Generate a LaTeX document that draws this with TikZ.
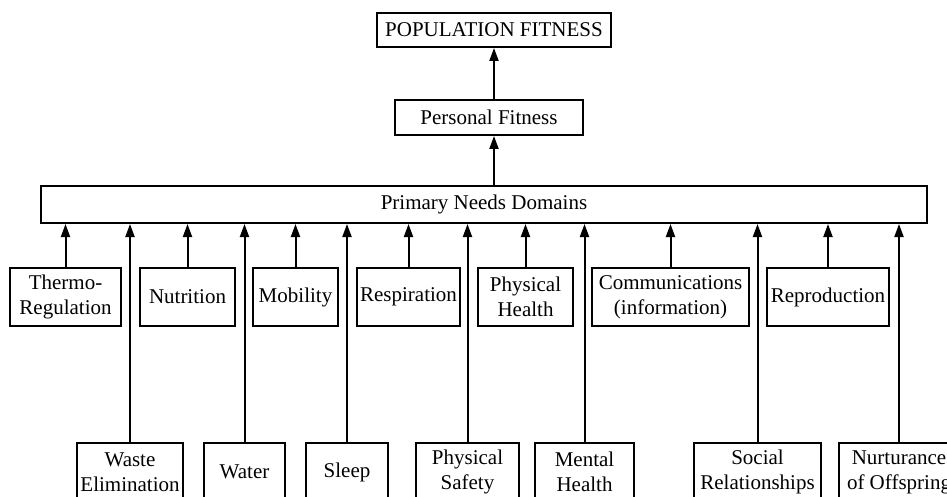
\documentclass[tikz,border=0pt]{standalone}
\usepackage{fontspec}
\setmainfont{Liberation Serif}
\usetikzlibrary{arrows.meta}
\begin{document}
\begin{tikzpicture}[x=1pt,y=-1pt,
 box/.style={draw,line width=2pt,fill=white,inner sep=0pt,align=center,anchor=north west,font=\fontsize{21}{25}\selectfont},
 arr/.style={line width=2pt,-{Triangle[length=13pt,width=9pt]}}]
\clip (0,0) rectangle (947,497);
\fill[white] (0,0) rectangle (947,497);
% top
\node[box,minimum width=234pt,minimum height=34pt] (pop) at (376,12) {POPULATION FITNESS};
\node[box,minimum width=188pt,minimum height=35pt] (pers) at (394,99) {Personal Fitness};
\node[box,minimum width=886pt,minimum height=37pt] (prim) at (40,185) {Primary Needs Domains};
% upper row
\node[box,minimum width=111pt,minimum height=58pt] (thermo) at (9,267) {Thermo-\\Regulation};
\node[box,minimum width=95pt,minimum height=58pt] (nutr) at (139,267) {Nutrition};
\node[box,minimum width=85pt,minimum height=58pt] (mob) at (252,267) {Mobility};
\node[box,minimum width=103pt,minimum height=58pt] (resp) at (356,267) {Respiration};
\node[box,minimum width=95pt,minimum height=58pt] (phys) at (477,267) {Physical\\Health};
\node[box,minimum width=157pt,minimum height=58pt] (comm) at (591,267) {Communications\\(information)};
\node[box,minimum width=122pt,minimum height=58pt] (repr) at (766,267) {Reproduction};
% lower row
\node[box,minimum width=106pt,minimum height=58pt] (waste) at (76,442) {Waste\\Elimination};
\node[box,minimum width=81pt,minimum height=58pt] (water) at (203,442) {Water};
\node[box,minimum width=82pt,minimum height=58pt] (sleep) at (305,442) {Sleep};
\node[box,minimum width=103pt,minimum height=58pt] (safe) at (415,442) {Physical\\Safety};
\node[box,minimum width=99pt,minimum height=58pt] (ment) at (534,442) {Mental\\Health};
\node[box,minimum width=127pt,minimum height=58pt] (soc) at (693,442) {Social\\Relationships};
\node[box,minimum width=120pt,minimum height=58pt] (nurt) at (838,442) {Nurturance\\of Offspring};
% arrows
\draw[arr] (prim.north -| pop.south) -- (pers.south -| pop.south);
\draw[arr] (pers.north -| pop.south) -- (pop.south);
\foreach \n in {thermo,nutr,mob,resp,phys,comm,repr,waste,water,sleep,safe,ment,soc,nurt}
  \draw[arr] (\n.north) -- (\n.north |- prim.south);
\end{tikzpicture}
\end{document}
